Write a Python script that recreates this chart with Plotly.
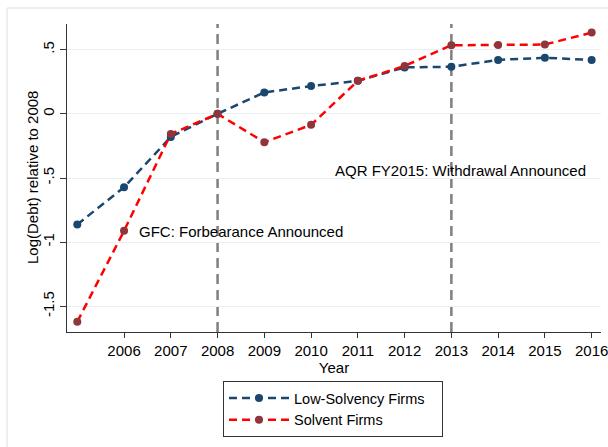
import plotly.graph_objects as go

years = [2005, 2006, 2007, 2008, 2009, 2010, 2011, 2012, 2013, 2014, 2015, 2016]
low_solvency = [-0.862, -0.572, -0.18, 0.0, 0.167, 0.216, 0.257, 0.362, 0.367, 0.42, 0.437, 0.42]
solvent = [-1.62, -0.912, -0.157, 0.0, -0.221, -0.086, 0.257, 0.373, 0.534, 0.537, 0.54, 0.633]
event_years = [2008, 2013]
y_ticks = [0.5, 0, -0.5, -1, -1.5]
y_tick_labels = [".5", "0", "-.5", "-1", "-1.5"]
x_ticks = [2006, 2007, 2008, 2009, 2010, 2011, 2012, 2013, 2014, 2015, 2016]

FONT = "Liberation Sans, Arial, sans-serif"
NAVY = "#1a476f"
RED = "#ff0000"
MAROON = "#90353b"
PAD = "&nbsp;" * 3  # widen legend box like Stata's

fig = go.Figure()
fig.add_trace(go.Scatter(
    x=years, y=low_solvency, mode="lines+markers", name="Low-Solvency Firms" + PAD,
    line=dict(color=NAVY, width=2.5, dash="8px,5px"),
    marker=dict(color=NAVY, size=8),
))
fig.add_trace(go.Scatter(
    x=years, y=solvent, mode="lines+markers", name="Solvent Firms",
    line=dict(color=RED, width=2.5, dash="8px,5px"),
    marker=dict(color=MAROON, size=8),
))

for ey in event_years:
    fig.add_shape(type="line", xref="x", yref="paper", x0=ey, x1=ey, y0=0, y1=1,
                  line=dict(color="#7f7f7f", width=2.5, dash="10px,6px"), layer="below")

fig.add_annotation(x=2006.27, y=-0.914, xref="x", yref="y", text="GFC: Forbearance Announced",
                   showarrow=False, xanchor="left", yanchor="middle",
                   font=dict(family=FONT, size=15, color="black"))
fig.add_annotation(x=2010.46, y=-0.444, xref="x", yref="y", text="AQR FY2015: Withdrawal Announced",
                   showarrow=False, xanchor="left", yanchor="middle",
                   font=dict(family=FONT, size=15, color="black"))
# y-axis title
fig.add_annotation(x=(32 - 67) / 534, y=0.5, xref="paper", yref="paper", text="Log(Debt) relative to 2008",
                   showarrow=False, textangle=-90, xanchor="center", yanchor="middle",
                   font=dict(family=FONT, size=15, color="black"))

# faint outer graph-region frame (Stata style)
fig.add_shape(type="line", xref="paper", yref="paper", x0=-60/534, x1=-60/534, y0=-115/308, y1=(308+16)/308,
              line=dict(color="#e3ebef", width=1.5))
fig.add_shape(type="line", xref="paper", yref="paper", x0=-60/534, x1=(534+10)/534, y0=(308+16)/308, y1=(308+16)/308,
              line=dict(color="#e3ebef", width=1.5))

fig.update_layout(
    width=608, height=447,
    margin=dict(l=67, r=7, t=24, b=115, autoexpand=False),
    paper_bgcolor="white", plot_bgcolor="white",
    font=dict(family=FONT, size=15, color="black"),
    showlegend=True,
    legend=dict(x=(223 - 67) / 534, y=(332 - 381) / 308, xanchor="left", yanchor="top",
                bordercolor="#333333", borderwidth=1, bgcolor="white",
                font=dict(family=FONT, size=14.5, color="black"),
                tracegroupgap=0, itemwidth=60),
)
fig.update_xaxes(
    range=[2004.78, 2016.2], tickmode="array", tickvals=x_ticks,
    ticks="outside", ticklen=5, tickcolor="#333333", showline=True, linecolor="#333333", linewidth=1,
    showgrid=False, zeroline=False, automargin=False, ticklabeloverflow="allow",
    title=dict(text="Year", standoff=2, font=dict(family=FONT, size=15)),
    tickfont=dict(family=FONT, size=15),
)
fig.update_yaxes(
    range=[-1.7, 0.7], tickmode="array", tickvals=y_ticks, ticktext=y_tick_labels,
    ticks="outside", ticklen=6, tickcolor="#333333", showline=True, linecolor="#333333", linewidth=1,
    showgrid=True, gridcolor="#e9f0f3", gridwidth=1, zeroline=False, tickangle=-90, automargin=False,
    tickfont=dict(family=FONT, size=15),
)

fig.write_html("out.html", config={"displayModeBar": False},
               post_script="document.body.style.margin='0';document.body.style.padding='0';")
